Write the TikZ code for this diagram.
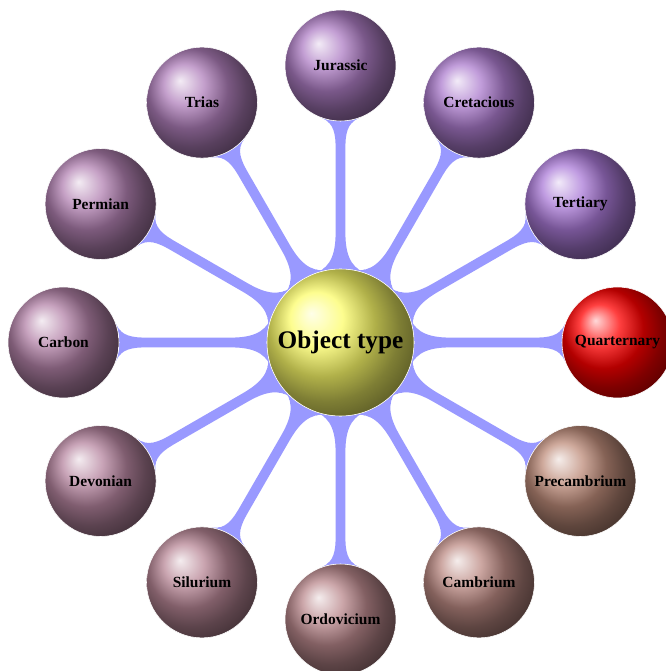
\documentclass[tikz,border=0pt]{standalone}
\usepackage{fontspec}
\setmainfont{Liberation Serif}
\usetikzlibrary{mindmap}
\pgfdeclarelayer{background}
\pgfsetlayers{background,main}
\definecolor{oldc}{RGB}{190,140,122}
\definecolor{newc}{RGB}{170,122,215}
\definecolor{barc}{RGB}{153,153,255}
\definecolor{rootc}{RGB}{252,252,105}
\tikzset{
  rootball/.style={circle, minimum size=3.675cm, inner sep=0pt, ball color=rootc, draw=white, line width=0.4pt, font=\fontsize{18}{20}\selectfont\bfseries},
  periodball/.style={circle, minimum size=2.775cm, inner sep=0pt, ball color=#1, draw=white, line width=0.4pt, font=\fontsize{11}{13}\selectfont\bfseries},
  linkbar/.style={circle connection bar switch color=from (barc) to (barc)}
}
\begin{document}
\begin{tikzpicture}
\useasboundingbox (-8.5125,-8.2125) rectangle (8.1125,8.5625);
\node[rootball] (root) at (0,0) {Object type};
\node[periodball=red] (quart) at (0:6.925) {Quarternary};
\node[periodball=newc!100!oldc] (tert) at (30:6.925) {Tertiary};
\node[periodball=newc!90!oldc] (cret) at (60:6.925) {Cretacious};
\node[periodball=newc!80!oldc] (jura) at (90:6.925) {Jurassic};
\node[periodball=newc!70!oldc] (trias) at (120:6.925) {Trias};
\node[periodball=newc!60!oldc] (perm) at (150:6.925) {Permian};
\node[periodball=newc!50!oldc] (carb) at (180:6.925) {Carbon};
\node[periodball=newc!40!oldc] (devo) at (210:6.925) {Devonian};
\node[periodball=newc!30!oldc] (silu) at (240:6.925) {Silurium};
\node[periodball=newc!20!oldc] (ordo) at (270:6.925) {Ordovicium};
\node[periodball=newc!10!oldc] (camb) at (300:6.925) {Cambrium};
\node[periodball=newc!0!oldc] (prec) at (330:6.925) {Precambrium};
\begin{pgfonlayer}{background}
\begin{scope}[mindmap, concept color=barc]
\foreach \n in {quart,tert,cret,jura,trias,perm,carb,devo,silu,ordo,camb,prec}
  \path (root) to[linkbar] (\n);
\end{scope}
\end{pgfonlayer}
\end{tikzpicture}
\end{document}
